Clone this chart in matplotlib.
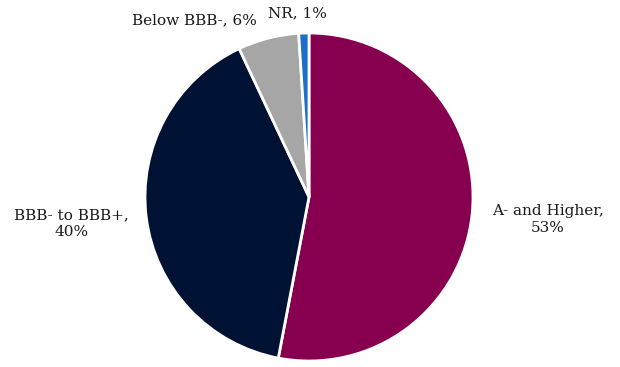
import matplotlib
matplotlib.use("Agg")
import matplotlib.pyplot as plt

labels = ["A- and Higher,\n53%", "BBB- to BBB+,\n40%", "Below BBB-, 6%", "NR, 1%"]
shares = [53, 40, 6, 1]
colors = ["#870050", "#001233", "#A6A6A6", "#1C6FC6"]
label_pos = [(1.455, -0.135), (-1.448, -0.165), (-0.70, 1.075), (-0.07, 1.12)]

fig = plt.figure(figsize=(6.2, 3.67), dpi=100)
ax = fig.add_axes([0, 0, 1, 1])
ax.pie(shares, colors=colors, startangle=90, counterclock=False,
       wedgeprops=dict(edgecolor="white", linewidth=2))
for text, (x, y) in zip(labels, label_pos):
    ax.text(x, y, text, ha="center", va="center", fontsize=11,
            family="DejaVu Serif", color="#1a1a1a", linespacing=1.25)

ax.set_aspect("auto")
ax.set_xlim(-309 / 164, (620 - 309) / 164)
ax.set_ylim(-(367 - 197) / 164, 197 / 164)
ax.axis("off")
fig.savefig("out.png", dpi=100)
